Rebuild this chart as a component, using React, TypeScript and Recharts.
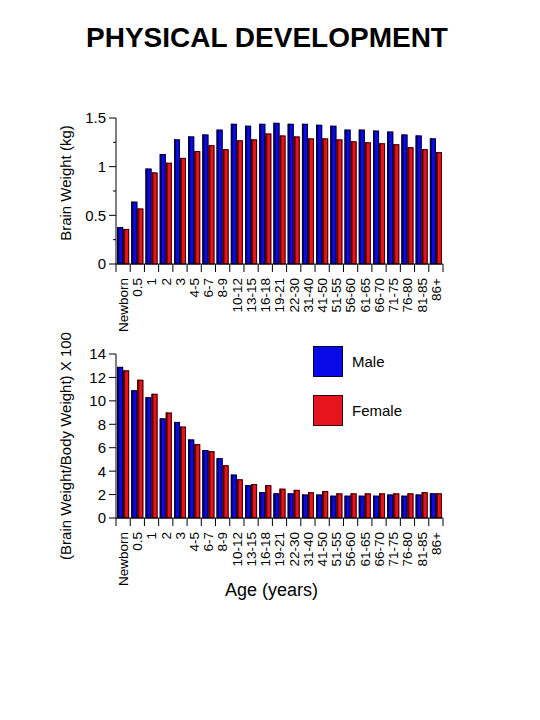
import React from 'react';
import { BarChart, Bar, XAxis, YAxis, Legend } from 'recharts';

const ages = ['Newborn', '0.5', '1', '2', '3', '4-5', '6-7', '8-9', '10-12', '13-15', '16-18', '19-21', '22-30', '31-40', '41-50', '51-55', '56-60', '61-65', '66-70', '71-75', '76-80', '81-85', '86+'];
const brainMale = [0.38, 0.64, 0.98, 1.13, 1.28, 1.31, 1.33, 1.38, 1.44, 1.42, 1.44, 1.45, 1.44, 1.44, 1.43, 1.42, 1.38, 1.38, 1.37, 1.36, 1.33, 1.32, 1.29];
const brainFemale = [0.36, 0.57, 0.94, 1.04, 1.09, 1.16, 1.22, 1.18, 1.27, 1.28, 1.34, 1.32, 1.31, 1.29, 1.29, 1.28, 1.26, 1.25, 1.24, 1.23, 1.2, 1.18, 1.15];
const ratioMale = [12.9, 10.9, 10.3, 8.5, 8.2, 6.7, 5.8, 5.1, 3.7, 2.8, 2.2, 2.1, 2.1, 2.0, 2.0, 1.9, 1.9, 1.9, 1.9, 2.0, 1.9, 2.0, 2.1];
const ratioFemale = [12.6, 11.8, 10.6, 9.0, 7.8, 6.3, 5.7, 4.5, 3.3, 2.9, 2.8, 2.5, 2.4, 2.2, 2.3, 2.1, 2.1, 2.1, 2.1, 2.1, 2.1, 2.2, 2.1];
const brainTicks = [0, 0.25, 0.5, 0.75, 1, 1.25, 1.5];
const brainLabels = [0, 0.5, 1, 1.5];
const ratioTicks = [0, 2, 4, 6, 8, 10, 12, 14];
const seriesNames = ['Male', 'Female'];

const topData = ages.map((age, i) => ({ age, male: brainMale[i], female: brainFemale[i] }));
const bottomData = ages.map((age, i) => ({ age, male: ratioMale[i], female: ratioFemale[i] }));

const FONT = '"Liberation Sans", Arial, sans-serif';
const BLUE = '#0a0ae8';
const BLUE_DARK = '#00006a';
const RED = '#e8141c';
const RED_DARK = '#7a0000';

const makeShape = (main: string, dark: string, edge: string) => (props: any) => {
  const { x, y, width, height } = props;
  if (!height || height <= 0) return null;
  return (
    <g>
      <rect x={x} y={y} width={width} height={height} fill={main} />
      <rect x={x} y={y} width={Math.min(2, width)} height={height} fill={dark} />
      <rect x={x + 0.5} y={y + 0.5} width={width - 1} height={height - 0.5} fill="none" stroke={edge} strokeWidth={1} />
    </g>
  );
};
const MaleShape = makeShape(BLUE, BLUE_DARK, '#000030');
const FemaleShape = makeShape(RED, RED_DARK, '#300000');

const XTick = (props: any) => {
  const { x, y, payload, index } = props;
  const half = payload && payload.offset ? payload.offset : 7.1;
  const last = index === ages.length - 1;
  return (
    <g>
      <line x1={x - half} y1={y} x2={x - half} y2={y + 8} stroke="#000" />
      {last && <line x1={x + half} y1={y} x2={x + half} y2={y + 8} stroke="#000" />}
      <text
        x={x}
        y={y + 14}
        transform={`rotate(-90, ${x}, ${y + 14})`}
        textAnchor="end"
        dy="0.36em"
        fontSize={13.5}
        fontFamily={FONT}
        fill="#000"
      >
        {payload.value}
      </text>
    </g>
  );
};

const makeYTick = (labels: number[] | null) => (props: any) => {
  const { x, y, payload } = props;
  const major = labels === null || labels.includes(payload.value);
  return (
    <g>
      <line x1={x - (major ? 7 : 3)} y1={y} x2={x} y2={y} stroke="#000" />
      {major && (
        <text x={x - 10} y={y} dy="0.36em" textAnchor="end" fontSize={15} fontFamily={FONT} fill="#000">
          {String(payload.value)}
        </text>
      )}
    </g>
  );
};
const TopYTick = makeYTick(brainLabels);
const BottomYTick = makeYTick(null);

const makeYLabel = (text: string, cx: number, cy: number) => () => (
  <text
    x={cx}
    y={cy}
    transform={`rotate(-90, ${cx}, ${cy})`}
    textAnchor="middle"
    dy="0.36em"
    fontSize={15}
    fontFamily={FONT}
    fill="#000"
  >
    {text}
  </text>
);

const LegendContent = () => (
  <div style={{ fontFamily: FONT, fontSize: 15, color: '#000' }}>
    {seriesNames.map((name, i) => (
      <div key={name} style={{ display: 'flex', alignItems: 'center', height: 31, marginBottom: i === 0 ? 18 : 0 }}>
        <div
          style={{
            width: 28,
            height: 29,
            background: i === 0 ? BLUE : RED,
            border: `1px solid ${i === 0 ? '#000030' : '#300000'}`,
          }}
        />
        <span style={{ marginLeft: 9 }}>{name}</span>
      </div>
    ))}
  </div>
);

const AgeLabel = (props: any) => {
  const vb = props.viewBox || { x: 116, y: 197.7, width: 327 };
  const cx = vb.x + vb.width / 2 - 8;
  return (
    <text x={cx} y={vb.y + 78} textAnchor="middle" fontSize={18} fontFamily={FONT} fill="#000">
      Age (years)
    </text>
  );
};

export default function App() {
  return (
    <div style={{ position: 'absolute', left: 0, top: 0, width: 540, height: 720, background: '#fff' }}>
      <div
        style={{
          position: 'absolute',
          left: 0,
          top: 22,
          width: 534,
          textAlign: 'center',
          fontFamily: FONT,
          fontWeight: 'bold',
          fontSize: 28,
          lineHeight: '32px',
          color: '#000',
        }}
      >
        PHYSICAL DEVELOPMENT
      </div>

      <div style={{ position: 'absolute', left: 0, top: 0 }}>
        <BarChart
          width={540}
          height={340}
          data={topData}
          margin={{ top: 118, right: 97, bottom: 6, left: 0 }}
          barCategoryGap="8%"
          barGap={0}
        >
          <XAxis
            dataKey="age"
            interval={0}
            tickLine={false}
            tickSize={0}
            tickMargin={0}
            height={70}
            axisLine={{ stroke: '#000' }}
            tick={<XTick />}
          />
          <YAxis
            width={116}
            domain={[0, 1.5]}
            ticks={brainTicks}
            interval={0}
            tickLine={false}
            tickSize={0}
            tickMargin={0}
            axisLine={{ stroke: '#000' }}
            tick={<TopYTick />}
            label={{ content: makeYLabel('Brain Weight (kg)', 66, 183) }}
          />
          <Bar dataKey="male" shape={<MaleShape />} isAnimationActive={false} />
          <Bar dataKey="female" shape={<FemaleShape />} isAnimationActive={false} />
        </BarChart>
      </div>

      <div style={{ position: 'absolute', left: 0, top: 320 }}>
        <BarChart
          width={540}
          height={300}
          data={bottomData}
          margin={{ top: 34, right: 97, bottom: 6, left: 0 }}
          barCategoryGap="8%"
          barGap={0}
        >
          <XAxis
            dataKey="age"
            interval={0}
            tickLine={false}
            tickSize={0}
            tickMargin={0}
            height={96}
            axisLine={{ stroke: '#000' }}
            tick={<XTick />}
            label={{ content: <AgeLabel /> }}
          />
          <YAxis
            width={116}
            domain={[0, 14]}
            ticks={ratioTicks}
            interval={0}
            tickLine={false}
            tickSize={0}
            tickMargin={0}
            axisLine={{ stroke: '#000' }}
            tick={<BottomYTick />}
            label={{ content: makeYLabel('(Brain Weight/Body Weight) X 100', 66, 126) }}
          />
          <Legend
            content={<LegendContent />}
            wrapperStyle={{ position: 'absolute', left: 313, top: 26, width: 120, height: 0, overflow: 'visible' }}
          />
          <Bar dataKey="male" name="Male" shape={<MaleShape />} isAnimationActive={false} />
          <Bar dataKey="female" name="Female" shape={<FemaleShape />} isAnimationActive={false} />
        </BarChart>
      </div>
    </div>
  );
}
